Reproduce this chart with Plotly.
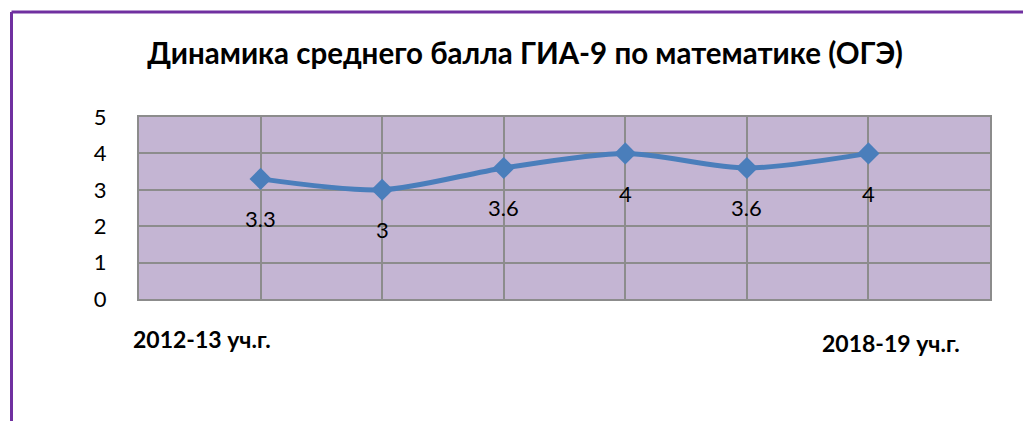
import plotly.graph_objects as go

categories = [1, 2, 3, 4, 5, 6]
values = [3.3, 3.0, 3.6, 4.0, 3.6, 4.0]
value_labels = ["3.3", "3", "3.6", "4", "3.6", "4"]
y_ticks = [0, 1, 2, 3, 4, 5]
title_text = "Динамика среднего балла ГИА-9 по математике (ОГЭ)"
first_label = "2012-13 уч.г."
last_label = "2018-19 уч.г."

# page offset of the figure (default body margin)
OFF = 8
W, H = 1031 - OFF, 421 - OFF
L, R, T, B = 139 - OFF, 41, 117 - OFF, 122
pw = W - L - R
ph = H - T - B

line_color = "#4A7EBB"
grid_color = "#8C8C8C"

fig = go.Figure()
fig.add_trace(go.Scatter(
    x=categories, y=values, mode="lines+markers",
    line=dict(color=line_color, width=5, shape="spline", smoothing=0.8),
    marker=dict(symbol="diamond", size=17, color=line_color),
    hoverinfo="skip", showlegend=False,
))

for c, v, t in zip(categories, values, value_labels):
    fig.add_annotation(x=c, y=v, text=t, showarrow=False, yshift=-40,
                       font=dict(family="Lato", size=22, color="#000000"))

def px_x(p):
    return (p - OFF - L) / pw

def px_y(p):
    return 1 - (p - OFF - T) / ph

fig.add_annotation(xref="paper", yref="paper", x=px_x(202), y=px_y(339), text="<b>" + first_label + "</b>",
                   showarrow=False, xanchor="center", yanchor="middle",
                   font=dict(family="Lato", size=23, color="#000000"))
fig.add_annotation(xref="paper", yref="paper", x=px_x(891), y=px_y(343), text="<b>" + last_label + "</b>",
                   showarrow=False, xanchor="center", yanchor="middle",
                   font=dict(family="Lato", size=23, color="#000000"))

# purple frame
frame = "#7030A0"
fig.add_shape(type="line", xref="paper", yref="paper", x0=px_x(11.5), x1=px_x(1040), y0=px_y(12), y1=px_y(12),
              line=dict(color=frame, width=3))
fig.add_shape(type="line", xref="paper", yref="paper", x0=px_x(11.5), x1=px_x(11.5), y0=px_y(12), y1=px_y(440),
              line=dict(color=frame, width=3))

fig.update_layout(
    width=W, height=H,
    margin=dict(l=L, r=R, t=T, b=B),
    paper_bgcolor="#FFFFFF",
    plot_bgcolor="#C4B5D3",
    title=dict(text="<b>" + title_text + "</b>", x=(525 - OFF) / W, xanchor="center",
               y=1 - (54 - OFF) / H, yanchor="middle",
               font=dict(family="Lato", size=29.5, color="#000000")),
    xaxis=dict(range=[0, 7], tickvals=categories, showticklabels=False, showgrid=True,
               gridcolor=grid_color, gridwidth=2, zeroline=False,
               showline=True, linecolor=grid_color, linewidth=2, mirror=True, fixedrange=True),
    yaxis=dict(range=[0, 5], tickvals=y_ticks, showgrid=True, gridcolor=grid_color, gridwidth=2,
               zeroline=False, showline=True, linecolor=grid_color, linewidth=2, mirror=True,
               ticklabelstandoff=26, tickfont=dict(family="Lato", size=22, color="#000000"),
               fixedrange=True),
)

fig.write_html("out.html")
